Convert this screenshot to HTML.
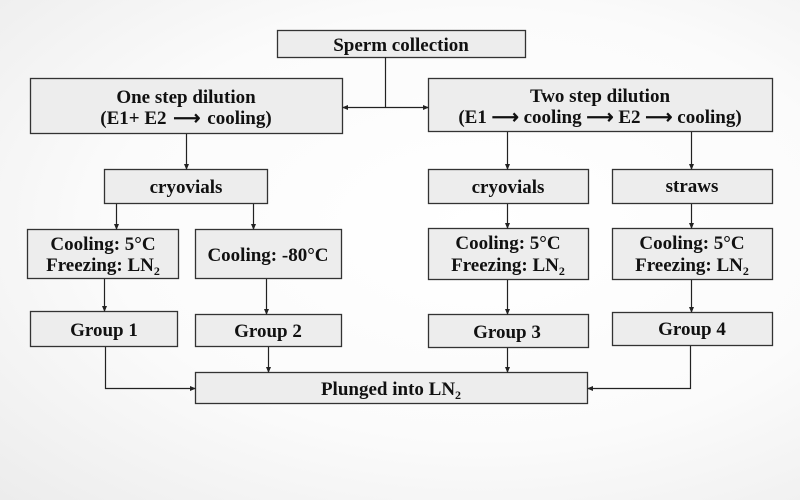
<!DOCTYPE html>
<html><head><meta charset="utf-8"><style>
html,body{margin:0;padding:0;width:800px;height:500px;overflow:hidden;}
body{background:radial-gradient(ellipse at 60% 45%, #ffffff 0%, #fbfbfb 55%, #ececec 100%);}
svg text{font-family:"Liberation Serif",serif;font-weight:bold;fill:#111;text-anchor:middle;}
</style></head><body>
<svg width="800" height="500" viewBox="0 0 800 500" xmlns="http://www.w3.org/2000/svg">
<defs>
<marker id="a" markerWidth="6" markerHeight="6" refX="5" refY="3" orient="auto" markerUnits="userSpaceOnUse">
<path d="M0,0.5 L6,3 L0,5.5 z" fill="#222"/></marker>
</defs>
<g fill="#ededed" stroke="#333" stroke-width="1.3">
<rect x="277.5" y="30.5" width="248" height="27"/>
<rect x="30.5" y="78.5" width="312" height="55"/>
<rect x="428.5" y="78.5" width="344" height="53"/>
<rect x="104.5" y="169.5" width="163" height="34"/>
<rect x="428.5" y="169.5" width="160" height="34"/>
<rect x="612.5" y="169.5" width="160" height="34"/>
<rect x="27.5" y="229.5" width="151" height="49"/>
<rect x="195.5" y="229.5" width="146" height="49"/>
<rect x="428.5" y="228.5" width="160" height="51"/>
<rect x="612.5" y="228.5" width="160" height="51"/>
<rect x="30.5" y="311.5" width="147" height="35"/>
<rect x="195.5" y="314.5" width="146" height="32"/>
<rect x="428.5" y="314.5" width="160" height="33"/>
<rect x="612.5" y="312.5" width="160" height="33"/>
<rect x="195.5" y="372.5" width="392" height="31"/>
</g>
<g stroke="#222" stroke-width="1.2" fill="none">
<path d="M385.5 57 V107.5"/>
<path d="M385.5 107.5 H343" marker-end="url(#a)"/>
<path d="M385.5 107.5 H428" marker-end="url(#a)"/>
<path d="M186.5 134 V169" marker-end="url(#a)"/>
<path d="M507.5 132 V169" marker-end="url(#a)"/>
<path d="M691.5 132 V169" marker-end="url(#a)"/>
<path d="M116.5 204 V229" marker-end="url(#a)"/>
<path d="M253.5 204 V229" marker-end="url(#a)"/>
<path d="M507.5 204 V228" marker-end="url(#a)"/>
<path d="M691.5 204 V228" marker-end="url(#a)"/>
<path d="M104.5 279 V311" marker-end="url(#a)"/>
<path d="M266.5 279 V314" marker-end="url(#a)"/>
<path d="M507.5 280 V314" marker-end="url(#a)"/>
<path d="M691.5 280 V312" marker-end="url(#a)"/>
<path d="M105.5 347 V388.5 H195" marker-end="url(#a)"/>
<path d="M268.5 347 V372" marker-end="url(#a)"/>
<path d="M507.5 348 V372" marker-end="url(#a)"/>
<path d="M690.5 346 V388.5 H588" marker-end="url(#a)"/>
</g>
<g font-size="19">
<text x="401" y="51">Sperm collection</text>
<text x="186" y="103">One step dilution</text>
<text x="186" y="124">(E1+ E2 <tspan dx="2">⟶</tspan> <tspan dx="2">cooling)</tspan></text>
<text x="600" y="102">Two step dilution</text>
<text x="600" y="123">(E1 ⟶ cooling ⟶ E2 ⟶ cooling)</text>
<text x="186" y="193">cryovials</text>
<text x="508" y="193">cryovials</text>
<text x="692" y="192">straws</text>
<text x="103" y="250">Cooling: 5°C</text>
<text x="103" y="271">Freezing: LN<tspan font-size="12" dy="4">2</tspan></text>
<text x="268" y="261">Cooling: -80°C</text>
<text x="508" y="249">Cooling: 5°C</text>
<text x="508" y="271">Freezing: LN<tspan font-size="12" dy="4">2</tspan></text>
<text x="692" y="249">Cooling: 5°C</text>
<text x="692" y="271">Freezing: LN<tspan font-size="12" dy="4">2</tspan></text>
<text x="104" y="336">Group 1</text>
<text x="268" y="337">Group 2</text>
<text x="507" y="338">Group 3</text>
<text x="692" y="335">Group 4</text>
<text x="391" y="395">Plunged into LN<tspan font-size="12" dy="4">2</tspan></text>
</g>
</svg>
</body></html>
